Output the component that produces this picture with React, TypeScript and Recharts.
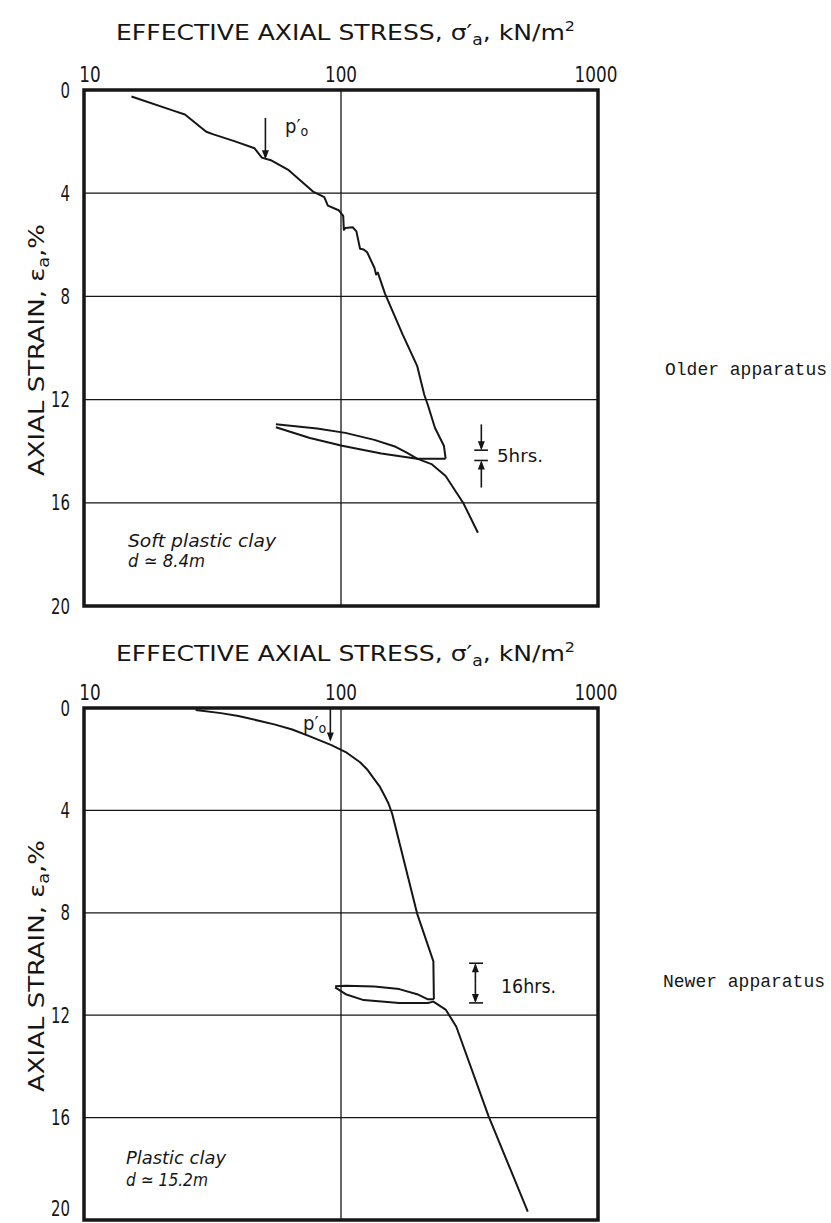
import React from 'react';
import { LineChart, Line, XAxis, YAxis, CartesianGrid, ReferenceArea, ReferenceLine } from 'recharts';

// Older apparatus — soft plastic clay, d = 8.4m
const olderLoadStress = [15.3, 22.4, 24.7, 29.9, 31.9, 38.7, 46.1, 49.2, 53.3, 62.6, 78.2, 86.1, 88.9, 97.9, 102, 102.6, 104, 111, 114.8, 118.6, 122.5, 126.4, 134.9, 136.9, 139.1, 148.3, 174, 197.8, 211, 217.9, 232, 251.4, 255.4];
const olderLoadStrain = [0.25, 0.81, 0.95, 1.62, 1.72, 1.99, 2.26, 2.62, 2.72, 3.11, 3.95, 4.15, 4.48, 4.66, 4.88, 5.42, 5.35, 5.32, 5.48, 6.15, 6.18, 6.29, 6.89, 7.15, 7.08, 7.89, 9.49, 10.69, 11.82, 12.22, 13.09, 13.79, 14.29];
const olderUnloadStress = [255.4, 197.8, 179.5, 163.2, 134.9, 104, 80.7, 55.8];
const olderUnloadStrain = [14.29, 14.29, 14.05, 13.83, 13.56, 13.29, 13.12, 12.96];
const olderReloadStress = [55.8, 75.7, 101, 143.5, 197.8, 224.9, 255.4, 299.9, 341];
const olderReloadStrain = [13.07, 13.49, 13.79, 14.09, 14.29, 14.5, 14.96, 16.03, 17.16];

// Newer apparatus — plastic clay, d = 15.2m
const newerLoadStress = [27.2, 34.1, 39.9, 55, 64.6, 75.7, 91.8, 104.3, 118.6, 126.2, 134.9, 141.3, 148.3, 153, 158.2, 197.8, 228.8, 229.8];
const newerLoadStrain = [0.08, 0.2, 0.31, 0.64, 0.84, 1.11, 1.45, 1.72, 2.12, 2.39, 2.79, 3.06, 3.46, 3.73, 4.13, 8.03, 9.9, 11.38];
const newerUnloadStress = [229.8, 217.9, 197.8, 168.5, 134.9, 104.3, 94.9];
const newerUnloadStrain = [11.38, 11.38, 11.18, 10.98, 10.88, 10.85, 10.87];
const newerReloadStress = [94.9, 104.3, 122.5, 168.5, 217.9, 228.8, 255.4, 281, 375, 533];
const newerReloadStrain = [10.91, 11.18, 11.41, 11.52, 11.52, 11.47, 11.78, 12.45, 15.94, 19.67];

const stressTicks = [10, 100, 1000];
const strainTicks = [0, 4, 8, 12, 16, 20];

// p'o arrows [stress, strain from, strain to]
const olderPo = [50.8, 1.08, 2.68];
const newerPo = [90.9, 0.04, 1.31];
// creep-time markers [stress, bar left, bar right, strain top, strain bottom]
const olderCreep = [351.6, 330, 373, 13.96, 14.36];
const newerCreep = [333.4, 315, 357, 9.97, 11.52];

const INK = '#161616';
const TECH = "'DejaVu Sans Condensed', 'Liberation Sans Narrow', 'DejaVu Sans', sans-serif";
const MONO = "'Courier New', 'Liberation Mono', monospace";

const toPoints = (s: number[], e: number[]) => s.map((v, i) => ({ stress: v, strain: e[i] }));

// line + filled arrowhead at (x2, y2)
const arrowShape = (props: any) => {
  const { x1, y1, x2, y2 } = props;
  const dir = y2 > y1 ? 1 : -1;
  const len = 9;
  return (
    <g>
      <line x1={x1} y1={y1} x2={x2} y2={y2 - dir * 2} stroke={INK} strokeWidth={1.6} />
      <polygon points={`${x2},${y2} ${x2 - 3.5},${y2 - dir * len} ${x2 + 3.5},${y2 - dir * len}`} fill={INK} />
    </g>
  );
};

const XTick = (props: any) => {
  const { x, y, payload, index } = props;
  const shift = index === 0 ? 6 : index === 2 ? -2 : 0;
  const label = String(payload.value);
  return (
    <text
      x={x + shift}
      y={y}
      textAnchor="middle"
      fontFamily={TECH}
      fontSize={21}
      fill={INK}
      textLength={label.length * 10.7}
      lengthAdjust="spacingAndGlyphs"
    >
      {label}
    </text>
  );
};

const YTick = (props: any) => {
  const { x, y, payload, maxY } = props;
  const label = String(payload.value);
  return (
    <text
      x={x - 6}
      y={Math.min(y, maxY)}
      dy="0.36em"
      textAnchor="end"
      fontFamily={TECH}
      fontSize={21}
      fill={INK}
      textLength={label.length * 9.5}
      lengthAdjust="spacingAndGlyphs"
    >
      {label}
    </text>
  );
};

interface PanelProps {
  top: number;
  height: number;
  margin: { top: number; bottom: number };
  curves: { stress: number; strain: number }[][];
  po: number[];
  creep: number[];
  creepStyle: 'inward' | 'outward';
}

const Panel: React.FC<PanelProps> = ({ top, height, margin, curves, po, creep, creepStyle }) => {
  const [cs, cl, cr, ct, cb] = creep;
  return (
    <div style={{ position: 'absolute', left: 0, top }}>
      <LineChart width={831} height={height} margin={{ top: margin.top, bottom: margin.bottom, left: 44, right: 233 }}>
        <CartesianGrid stroke={INK} strokeWidth={1.3} horizontalValues={strainTicks} verticalValues={stressTicks} />
        <XAxis
          xAxisId={0}
          dataKey="stress"
          type="number"
          scale="log"
          domain={[10, 1000]}
          ticks={stressTicks}
          allowDataOverflow
          orientation="top"
          height={30}
          axisLine={false}
          tickLine={false}
          tick={<XTick />}
          interval={0}
        />
        <YAxis
          yAxisId={0}
          type="number"
          domain={[0, 20]}
          ticks={strainTicks}
          reversed
          width={40}
          axisLine={false}
          tickLine={false}
          tick={(p: any) => <YTick {...p} maxY={height - 15} />}
          interval={0}
        />
        {curves.map((c, i) => (
          <Line
            key={i}
            data={c}
            dataKey="strain"
            type="linear"
            stroke={INK}
            strokeWidth={2}
            dot={false}
            isAnimationActive={false}
            strokeLinejoin="round"
          />
        ))}
        <ReferenceLine segment={[{ x: po[0], y: po[1] }, { x: po[0], y: po[2] }]} shape={arrowShape} />
        {creepStyle === 'inward' ? (
          <>
            <ReferenceLine segment={[{ x: cs, y: ct - 1 }, { x: cs, y: ct }]} shape={arrowShape} />
            <ReferenceLine segment={[{ x: cs, y: cb + 1.05 }, { x: cs, y: cb }]} shape={arrowShape} />
          </>
        ) : (
          <>
            <ReferenceLine segment={[{ x: cs, y: (ct + cb) / 2 }, { x: cs, y: ct }]} shape={arrowShape} />
            <ReferenceLine segment={[{ x: cs, y: (ct + cb) / 2 }, { x: cs, y: cb }]} shape={arrowShape} />
          </>
        )}
        <ReferenceLine segment={[{ x: cl, y: ct }, { x: cr, y: ct }]} stroke={INK} strokeWidth={1.6} />
        <ReferenceLine segment={[{ x: cl, y: cb }, { x: cr, y: cb }]} stroke={INK} strokeWidth={1.6} />
        <ReferenceArea x1={10} x2={1000} y1={0} y2={20} fill="none" fillOpacity={0} stroke={INK} strokeWidth={3.5} />
      </LineChart>
    </div>
  );
};

const Title: React.FC<{ y: number }> = ({ y }) => (
  <text x={116} y={y} fontFamily={TECH} fontSize={22} fill={INK} textLength={459} lengthAdjust="spacingAndGlyphs">
    EFFECTIVE AXIAL STRESS, σ′<tspan dy={5} fontSize={15}>a</tspan>
    <tspan dy={-5}>, kN/m</tspan>
    <tspan dy={-9} fontSize={14}>2</tspan>
  </text>
);

const YTitle: React.FC<{ cy: number }> = ({ cy }) => (
  <text
    transform={`translate(44,${cy}) rotate(-90)`}
    textAnchor="middle"
    fontFamily={TECH}
    fontSize={22}
    fill={INK}
    textLength={252}
    lengthAdjust="spacingAndGlyphs"
  >
    AXIAL STRAIN, ε<tspan dy={5} fontSize={15}>a</tspan>
    <tspan dy={-5}>,%</tspan>
  </text>
);

const Note: React.FC<{ x: number; y: number; w: number; size?: number; italic?: boolean; children: React.ReactNode }> = ({
  x,
  y,
  w,
  size = 18,
  italic = false,
  children,
}) => (
  <text
    x={x}
    y={y}
    fontFamily={TECH}
    fontSize={size}
    fontStyle={italic ? 'italic' : 'normal'}
    fill={INK}
    textLength={w}
    lengthAdjust="spacingAndGlyphs"
  >
    {children}
  </text>
);

export default function App() {
  const olderCurves = [
    toPoints(olderLoadStress, olderLoadStrain),
    toPoints(olderUnloadStress, olderUnloadStrain),
    toPoints(olderReloadStress, olderReloadStrain),
  ];
  const newerCurves = [
    toPoints(newerLoadStress, newerLoadStrain),
    toPoints(newerUnloadStress, newerUnloadStrain),
    toPoints(newerReloadStress, newerReloadStrain),
  ];

  return (
    <div style={{ position: 'absolute', left: 0, top: 0, width: 831, height: 1223, background: '#fff', overflow: 'hidden' }}>
      <Panel top={0} height={640} margin={{ top: 60, bottom: 34 }} curves={olderCurves} po={olderPo} creep={olderCreep} creepStyle="inward" />
      <Panel top={620} height={603} margin={{ top: 58, bottom: 3 }} curves={newerCurves} po={newerPo} creep={newerCreep} creepStyle="outward" />

      <svg width={831} height={1223} style={{ position: 'absolute', left: 0, top: 0, pointerEvents: 'none' }}>
        <Title y={40} />
        <Title y={661} />
        <YTitle cy={350} />
        <YTitle cy={966} />

        {/* top panel notes */}
        <text x={285} y={133} fontFamily={TECH} fontSize={20} fill={INK}>
          p′<tspan dy={3} fontSize={14}>o</tspan>
        </text>
        <Note x={497} y={462} w={46} size={18}>5hrs.</Note>
        <Note x={128} y={547} w={148} italic>Soft plastic clay</Note>
        <Note x={128} y={567} w={77} italic>d ≃ 8.4m</Note>

        {/* bottom panel notes */}
        <text x={303} y={730} fontFamily={TECH} fontSize={20} fill={INK}>
          p′<tspan dy={3} fontSize={14}>o</tspan>
        </text>
        <Note x={501} y={993} w={55} size={20}>16hrs.</Note>
        <Note x={126} y={1164} w={100} italic>Plastic clay</Note>
        <Note x={126} y={1186} w={82} italic>d ≃ 15.2m</Note>

        <text x={665} y={375} fontFamily={MONO} fontSize={18} fill={INK}>Older apparatus</text>
        <text x={663} y={987} fontFamily={MONO} fontSize={18} fill={INK}>Newer apparatus</text>
      </svg>
    </div>
  );
}
